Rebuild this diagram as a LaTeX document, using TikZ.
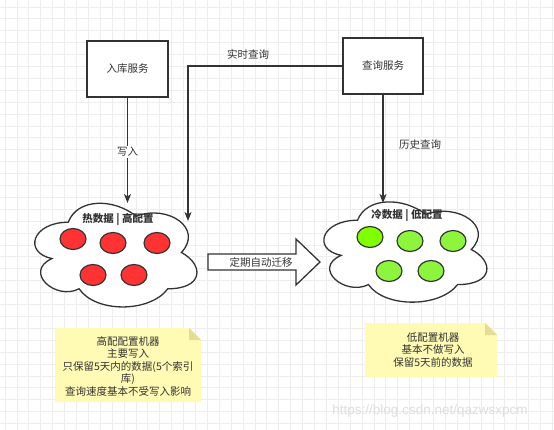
\documentclass[tikz,border=0pt]{standalone}
\usepackage{fontspec}
\setmainfont{Noto Sans CJK SC}
\newfontfamily\wmfont{Liberation Sans}
\usetikzlibrary{arrows.meta,shapes.geometric}
\definecolor{ink}{HTML}{333333}
\definecolor{gridc}{HTML}{EDEDED}
\definecolor{hotred}{HTML}{FF3333}
\definecolor{coldgreen}{HTML}{80FF00}
\definecolor{coldgreenb}{HTML}{8CF53C}
\definecolor{notefill}{HTML}{FFFAB4}
\definecolor{notefold}{HTML}{E3DE94}
\tikzset{
  txt/.style={font=\fontsize{10.5}{12.5}\selectfont, text=ink, inner sep=1pt},
  svcbox/.style={draw=ink, line width=1.3pt, fill=white, inner sep=0pt, txt},
  conn/.style={draw=ink, line width=1.3pt, -{Stealth[length=9pt,width=7pt,inset=2.5pt]}},
  cloudst/.style={draw=ink, line width=1.3pt, fill=white},
  hotdot/.style={ellipse, draw=ink, line width=1.2pt, fill=hotred, minimum width=26pt, minimum height=21pt, inner sep=0pt},
  colddot/.style={ellipse, draw=ink, line width=1.2pt, fill=coldgreenb, minimum width=26pt, minimum height=21pt, inner sep=0pt},
  notetxt/.style={txt, align=center},
}
\newcommand\mycloud[4]{%
  \draw[cloudst] ({#1+0.25*#3},{#2+0.25*#4})
    .. controls ({#1+0.05*#3},{#2+0.25*#4}) and ({#1},{#2+0.5*#4}) .. ({#1+0.16*#3},{#2+0.55*#4})
    .. controls ({#1},{#2+0.66*#4}) and ({#1+0.18*#3},{#2+0.9*#4}) .. ({#1+0.31*#3},{#2+0.8*#4})
    .. controls ({#1+0.4*#3},{#2+#4}) and ({#1+0.7*#3},{#2+#4}) .. ({#1+0.8*#3},{#2+0.8*#4})
    .. controls ({#1+#3},{#2+0.8*#4}) and ({#1+#3},{#2+0.6*#4}) .. ({#1+0.875*#3},{#2+0.5*#4})
    .. controls ({#1+#3},{#2+0.3*#4}) and ({#1+0.8*#3},{#2+0.1*#4}) .. ({#1+0.625*#3},{#2+0.2*#4})
    .. controls ({#1+0.5*#3},{#2+0.05*#4}) and ({#1+0.3*#3},{#2+0.05*#4}) .. ({#1+0.25*#3},{#2+0.25*#4})
    -- cycle;}
\newcommand\mynote[5]{% x1 y1 x2 y2 fold
  \fill[notefill] (#1,#2) -- ({#3-#5},#2) -- (#3,{#2+#5}) -- (#3,#4) -- (#1,#4) -- cycle;
  \fill[notefold] ({#3-#5},#2) -- ({#3-#5},{#2+#5}) -- (#3,{#2+#5}) -- cycle;}
\begin{document}
\begin{tikzpicture}[x=1pt,y=-1pt]
\useasboundingbox (0,0) rectangle (554,430);
\fill[white] (0,0) rectangle (554,430);
\foreach \i in {0,...,46} \draw[gridc, line width=0.8pt] ({5+11.9*\i},0) -- ({5+11.9*\i},430);
\foreach \i in {0,...,36} \draw[gridc, line width=0.8pt] (0,{7+11.9*\i}) -- (554,{7+11.9*\i});

% watermark
\node[font=\wmfont\fontsize{13.5}{14}\selectfont, text=black!13, inner sep=0pt] (wm) at (430,411) {https://blog.csdn.net/qazwsxpcm};

% service boxes
\node[svcbox, minimum width=81pt, minimum height=56pt] (ingest) at (127.5,69) {入库服务};
\node[svcbox, minimum width=80pt, minimum height=56pt] (query) at (383,66) {查询服务};

% clouds
\mycloud{23}{192}{181}{121}
\mycloud{312}{191}{182}{117}
\node[txt, font=\fontsize{10.5}{12.5}\selectfont\bfseries] (hottitle) at (118,219) {热数据 | 高配置};
\node[txt, font=\fontsize{10.5}{12.5}\selectfont\bfseries] (coldtitle) at (407,215) {冷数据 | 低配置};

\node[hotdot] (h1) at (73,239) {};
\node[hotdot] (h2) at (113,243) {};
\node[hotdot] (h3) at (157,243) {};
\node[hotdot] (h4) at (93,275) {};
\node[hotdot] (h5) at (134,275) {};

\node[colddot, fill=coldgreen] (c1) at (370,237) {};
\node[colddot] (c2) at (410,241) {};
\node[colddot] (c3) at (453,241) {};
\node[colddot] (c4) at (389,271) {};
\node[colddot] (c5) at (431,271) {};

% connector end points on the clouds
\coordinate (hottop) at (127.5,203);
\coordinate (hotright) at (188,221);
\coordinate (coldtop) at (383,203);
\coordinate (bend) at (188,66);

% connectors
\draw[conn] (ingest.south) -- (hottop);
\node[txt, fill=white] (lwrite) at (127.5,152) {写入};
\draw[conn] (query.west) -- (bend) -- (hotright);
\node[txt] (lrt) at (248,54) {实时查询};
\draw[conn] (query.south) -- (coldtop);
\node[txt] (lhist) at (420,145) {历史查询};

% migration arrow
\draw[draw=ink, line width=1.3pt, fill=white, line join=miter]
  (208,254) -- (296,254) -- (296,239) -- (320,262) -- (296,285) -- (296,270) -- (208,270) -- cycle;
\node[txt] (lmig) at (261,262) {定期自动迁移};

% notes
\mynote{55}{328}{201}{402}{12}
\node[notetxt] (note1) at (128,366) {高配配置机器\\主要写入\\只保留5天内的数据(5个索引\\库)\\查询速度基本不受写入影响};
\mynote{365}{323}{497}{377}{12}
\node[notetxt] (note2) at (433,350) {低配置机器\\基本不做写入\\保留5天前的数据};
\end{tikzpicture}
\end{document}
